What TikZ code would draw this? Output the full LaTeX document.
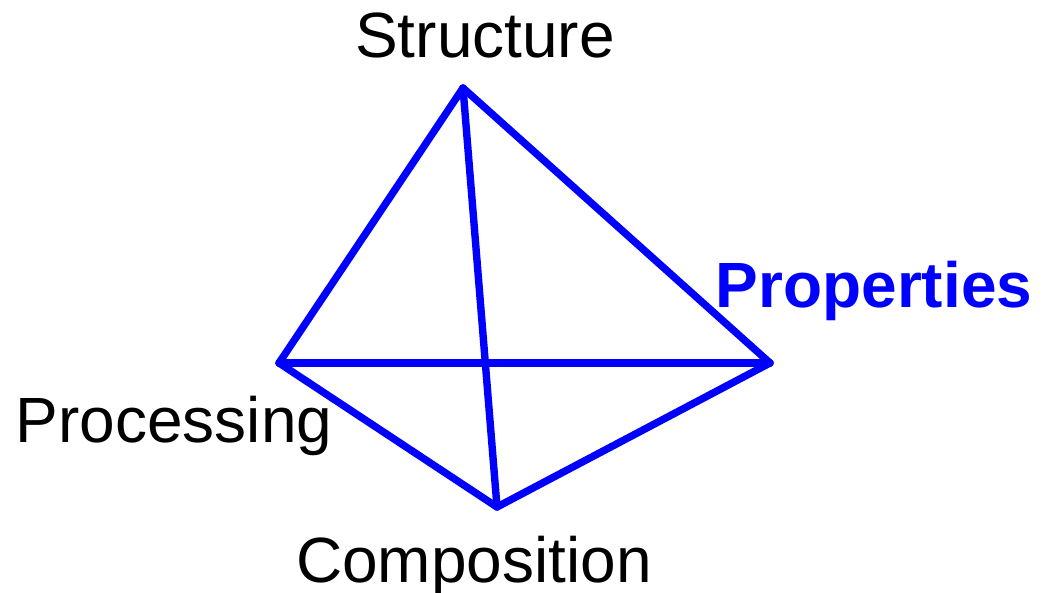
\documentclass[tikz,border=0pt]{standalone}
\usepackage{fontspec}
\setmainfont{Liberation Sans}
\usetikzlibrary{positioning}
\definecolor{edgeblue}{HTML}{0000FF}

\begin{document}
\begin{tikzpicture}[
  every node/.style={font=\fontsize{18.2pt}{20pt}\selectfont, inner sep=0pt},
  corner/.style={anchor=base},
  edge/.style={draw=edgeblue, line width=2.1pt, line cap=round, line join=round},
]
  \useasboundingbox (0,0) rectangle (10.46,5.92);

  % corners of the tetrahedron
  \coordinate (top) at (4.63,5.04);
  \coordinate (lft) at (2.79,2.29);
  \coordinate (rgt) at (7.70,2.29);
  \coordinate (bot) at (4.97,0.85);

  % labels
  \node[corner] (struct) at (4.85,5.34) {Structure};
  \node[corner] (proc)   at (1.74,1.50) {Processing};
  \node[corner] (comp)   at (4.74,0.10) {Composition};
  \node[corner, text=edgeblue, font=\fontsize{18.2pt}{20pt}\selectfont\bfseries] (prop) at (8.74,2.84) {Properties};

  % edges
  \draw[edge] (top) -- (lft);
  \draw[edge] (top) -- (rgt);
  \draw[edge] (top) -- (bot);
  \draw[edge] (lft) -- (rgt);
  \draw[edge] (lft) -- (bot);
  \draw[edge] (rgt) -- (bot);
\end{tikzpicture}
\end{document}
